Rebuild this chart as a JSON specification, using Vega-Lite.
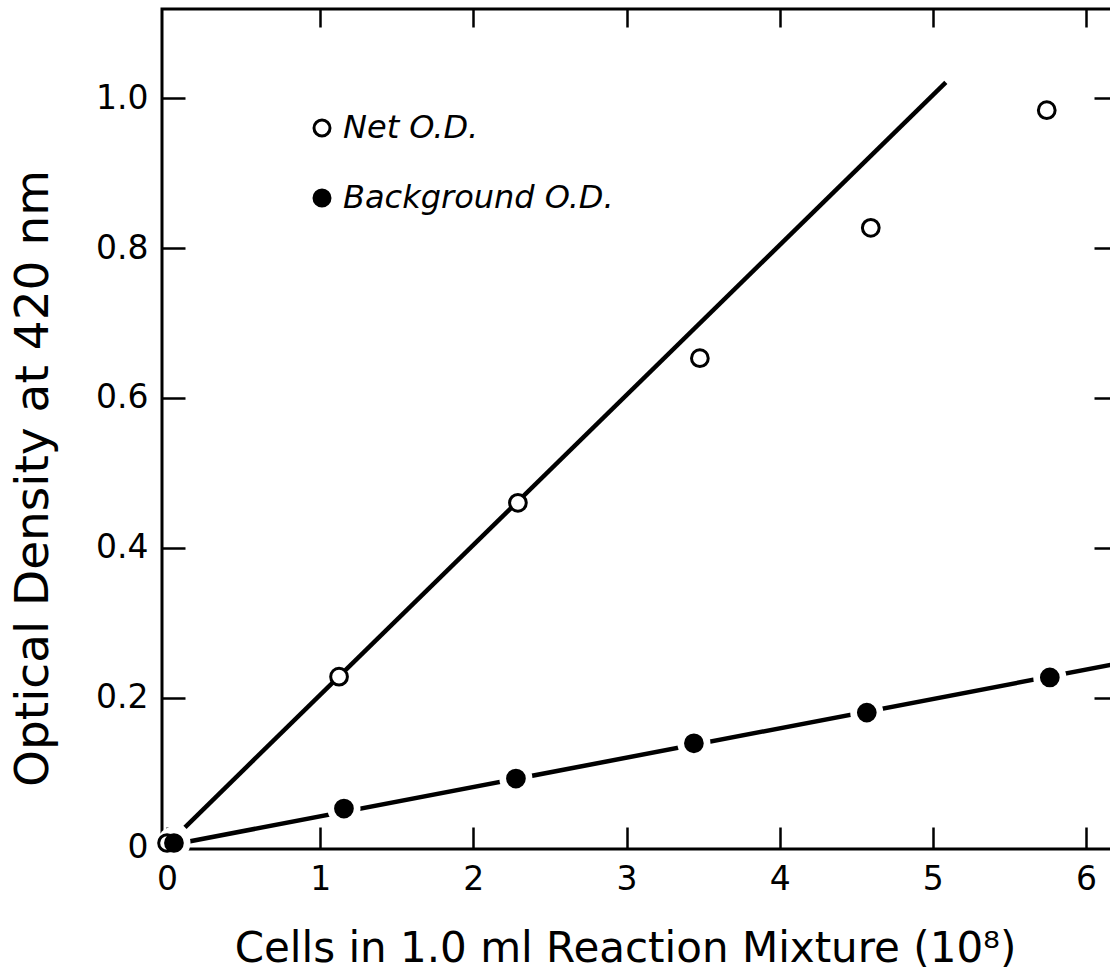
{
  "$schema": "https://vega.github.io/schema/vega-lite/v6.json",
  "width": 950,
  "height": 840,
  "autosize": {"type": "none"},
  "padding": {"left": 162, "top": 9, "right": 0, "bottom": 125},
  "background": "white",
  "config": {
    "view": {"stroke": "black", "strokeWidth": 3},
    "font": "DejaVu Sans",
    "axis": {"grid": false, "domain": false, "tickColor": "black", "tickWidth": 2.5, "labelColor": "black", "titleColor": "black", "labelFont": "DejaVu Sans", "titleFont": "DejaVu Sans", "titleFontWeight": "normal"}
  },
  "datasets": {
    "points": [
      {"series": "Net O.D.", "x": 0, "y": 0.006},
      {"series": "Net O.D.", "x": 1.123, "y": 0.228},
      {"series": "Net O.D.", "x": 2.291, "y": 0.46},
      {"series": "Net O.D.", "x": 3.479, "y": 0.653},
      {"series": "Net O.D.", "x": 4.595, "y": 0.827},
      {"series": "Net O.D.", "x": 5.744, "y": 0.984},
      {"series": "Background O.D.", "x": 0.045, "y": 0.006},
      {"series": "Background O.D.", "x": 1.155, "y": 0.052},
      {"series": "Background O.D.", "x": 2.278, "y": 0.092},
      {"series": "Background O.D.", "x": 3.44, "y": 0.139},
      {"series": "Background O.D.", "x": 4.569, "y": 0.18},
      {"series": "Background O.D.", "x": 5.764, "y": 0.227}
    ],
    "fits": [
      {"line": "Net O.D.", "x": 0.117, "y": 0.027},
      {"line": "Net O.D.", "x": 5.085, "y": 1.021},
      {"line": "Background O.D.", "x": 0.117, "y": 0.007},
      {"line": "Background O.D.", "x": 6.17, "y": 0.244}
    ]
  },
  "layer": [
    {
      "data": {"name": "fits"},
      "mark": {"type": "line", "color": "black", "strokeWidth": 4.5, "clip": true},
      "encoding": {
        "x": {"field": "x", "type": "quantitative",
          "scale": {"domain": [-0.033, 6.17], "nice": false, "zero": false},
          "axis": {"orient": "top", "values": [1, 2, 3, 4, 5, 6], "tickSize": -18, "labels": false, "title": null}},
        "y": {"field": "y", "type": "quantitative",
          "scale": {"domain": [-0.002, 1.119], "nice": false, "zero": false},
          "axis": {"orient": "right", "values": [0.2, 0.4, 0.6, 0.8, 1.0], "tickSize": -18, "labels": false, "title": null}},
        "detail": {"field": "line"}
      }
    },
    {
      "data": {"name": "points"},
      "transform": [{"filter": "datum.series === 'Background O.D.'"}],
      "mark": {"type": "point", "shape": "circle", "filled": true, "color": "white", "opacity": 1, "size": 1100},
      "encoding": {
        "x": {"field": "x", "type": "quantitative", "axis": null},
        "y": {"field": "y", "type": "quantitative", "axis": null}
      }
    },
    {
      "data": {"name": "points"},
      "mark": {"type": "point", "shape": "circle", "filled": true, "stroke": "black", "strokeWidth": 3, "opacity": 1, "size": 280},
      "encoding": {
        "x": {"field": "x", "type": "quantitative",
          "axis": {"orient": "bottom", "values": [0, 1, 2, 3, 4, 5, 6], "tickSize": -22, "labelFontSize": 33, "labelPadding": 36,
            "title": "Cells in 1.0 ml Reaction Mixture (10⁸)", "titleFontSize": 42, "titleX": 463, "titleY": 112, "titleBaseline": "alphabetic", "titleAnchor": "middle"}},
        "y": {"field": "y", "type": "quantitative",
          "axis": {"orient": "left", "values": [0, 0.2, 0.4, 0.6, 0.8, 1.0], "tickSize": -23, "labelFontSize": 33, "labelPadding": 37,
            "labelExpr": "datum.value == 0 ? '0' : format(datum.value, '.1f')",
            "title": "Optical Density at 420 nm", "titleFontSize": 47, "titleX": -115, "titleY": 469, "titleBaseline": "alphabetic", "titleAnchor": "middle", "titleAngle": 270}},
        "fill": {"field": "series", "type": "nominal",
          "scale": {"domain": ["Net O.D.", "Background O.D."], "range": ["white", "black"]},
          "legend": {"orient": "none", "legendX": 144, "legendY": 103, "title": null, "padding": 0, "symbolType": "circle", "symbolSize": 256, "symbolStrokeWidth": 3, "symbolStrokeColor": "black", "labelFontSize": 32, "labelFontStyle": "italic", "labelFont": "DejaVu Sans", "labelColor": "black", "labelOffset": 5, "labelLimit": 500, "rowPadding": 38}}
      }
    }
  ],
  "resolve": {"axis": {"x": "independent", "y": "independent"}}
}
